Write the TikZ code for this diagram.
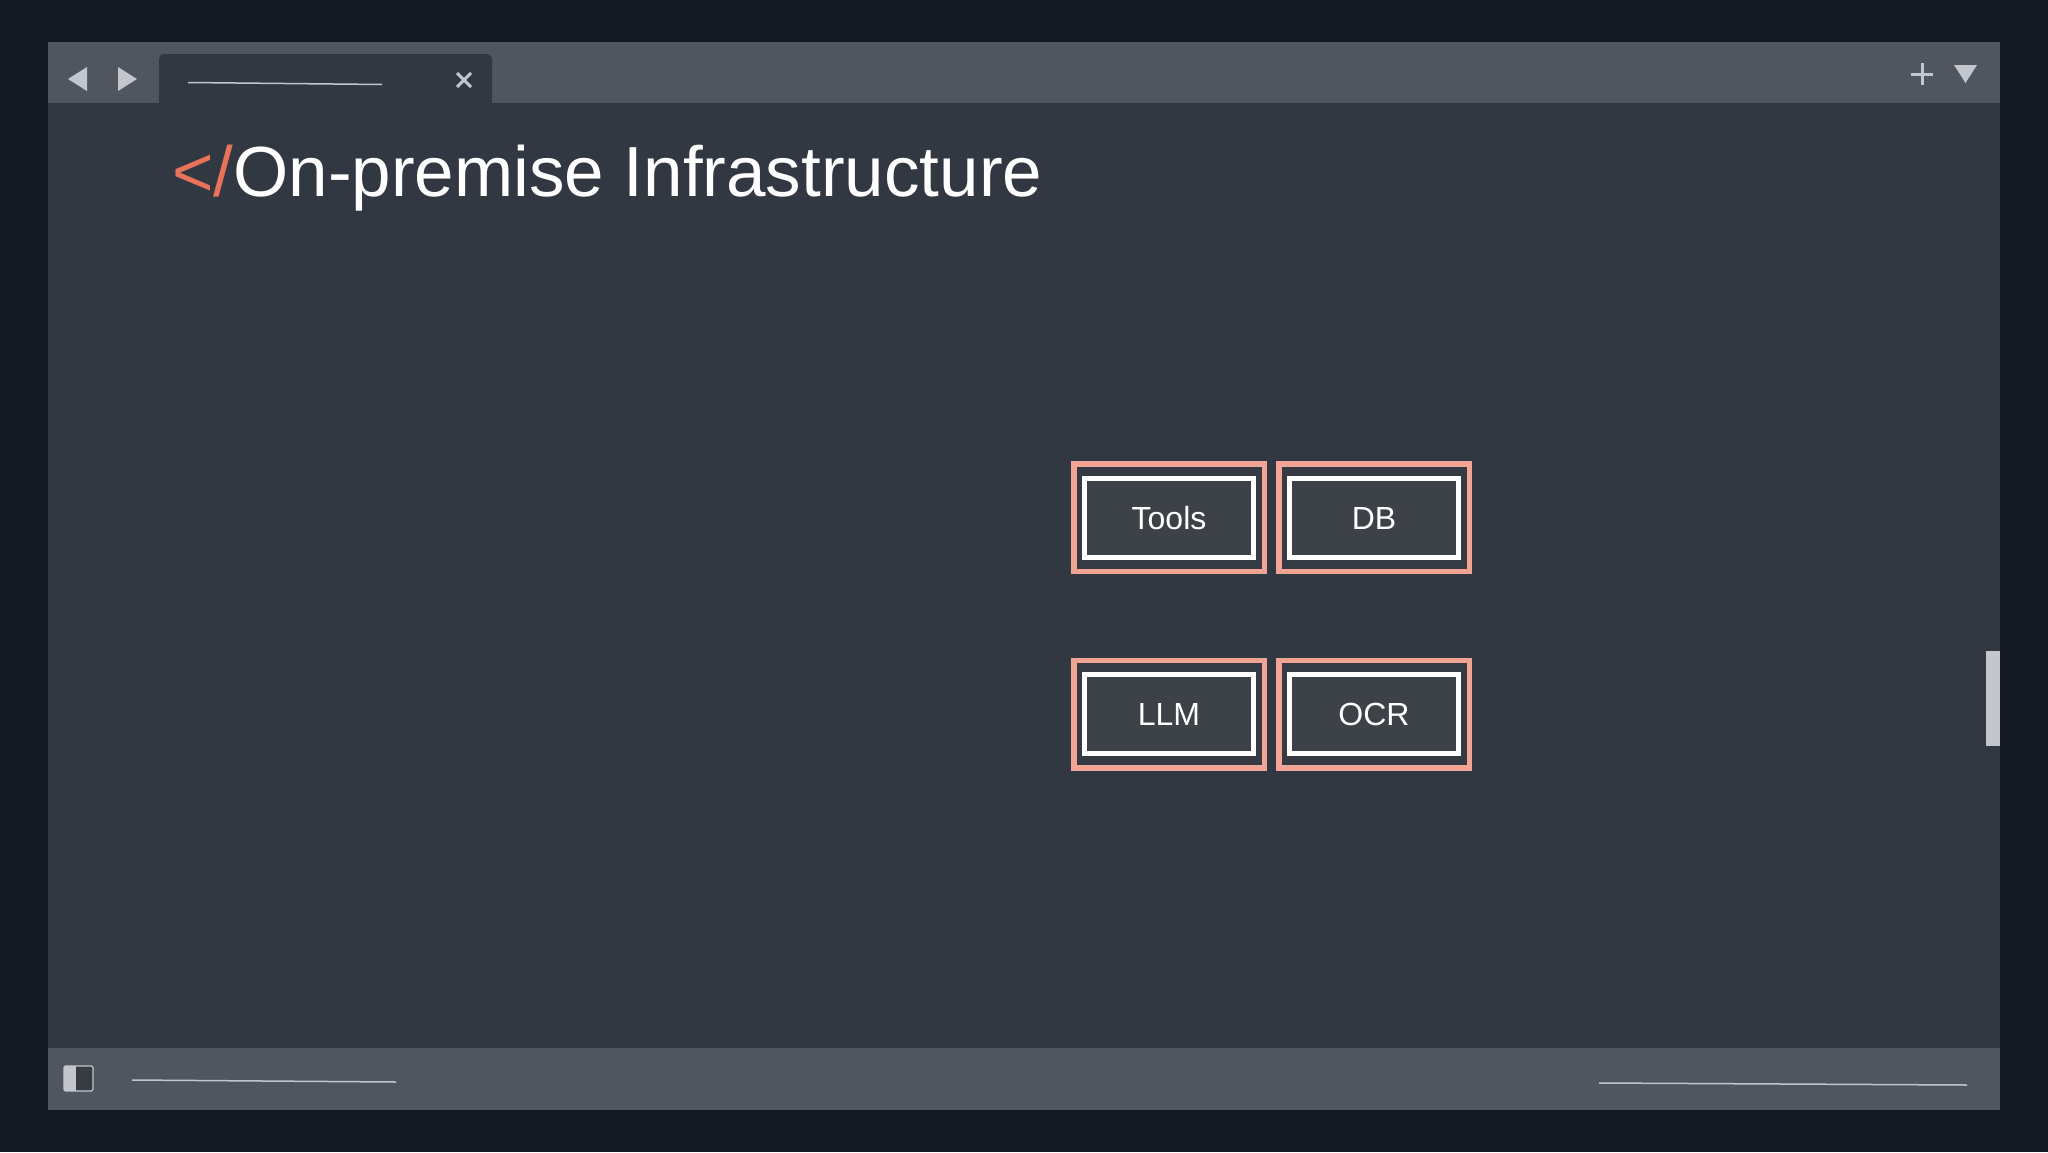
\documentclass[tikz,border=0pt]{standalone}
\usepackage{fontspec}
\setmainfont{Liberation Sans}
\usetikzlibrary{calc}
\definecolor{outerbg}{HTML}{141820}
\definecolor{barbg}{HTML}{4F5660}
\definecolor{contentbg}{HTML}{323842}
\definecolor{iconc}{HTML}{C3C7CD}
\definecolor{titleorange}{HTML}{E8735A}
\definecolor{boxorange}{HTML}{F2A594}
\definecolor{boxfill}{HTML}{363B43}
\definecolor{innerfill}{HTML}{3D4148}
\tikzset{
  outerbox/.style={draw=boxorange, line width=5.5pt, fill=boxfill, minimum width=190.5pt, minimum height=107.5pt, inner sep=0pt},
  innerbox/.style={draw=white, line width=5pt, fill=innerfill, minimum width=169pt, minimum height=79pt, inner sep=0pt, text=white, font=\fontsize{32}{38}\selectfont},
  thinline/.style={draw=iconc, line width=1.5pt},
  icon/.style={fill=iconc, draw=none},
}
\begin{document}
\begin{tikzpicture}[x=1pt, y=-1pt]
\useasboundingbox (0,0) rectangle (2048,1152);
\fill[outerbg] (0,0) rectangle (2048,1152);
% window
\fill[contentbg] (48,42) rectangle (2000,1110);
\fill[barbg] (48,42) rectangle (2000,103);
\fill[barbg] (48,1048) rectangle (2000,1110);
% tab
\fill[contentbg, rounded corners=5pt] (159,103) -- (159,54) -- (492,54) -- (492,103) -- cycle;
\fill[contentbg] (159,90) rectangle (492,104);
% nav arrows
\fill[icon] (87,67) -- (87,91) -- (68,79) -- cycle;
\fill[icon] (118,67) -- (118,91) -- (137,79) -- cycle;
% tab title line and close
\coordinate (tl1) at (188,82.5);
\coordinate (tl2) at (382,84.5);
\draw[thinline] (tl1) -- (tl2);
\coordinate (xc) at (464,80);
\draw[iconc, line width=3pt] ($(xc)+(-7,-7)$) -- ($(xc)+(7,7)$);
\draw[iconc, line width=3pt] ($(xc)+(-7,7)$) -- ($(xc)+(7,-7)$);
% plus and dropdown
\coordinate (pc) at (1922,74);
\draw[iconc, line width=3pt] ($(pc)+(-11,0)$) -- ($(pc)+(11,0)$);
\draw[iconc, line width=3pt] ($(pc)+(0,-11)$) -- ($(pc)+(0,11)$);
\fill[icon] (1954,65) -- (1977,65) -- (1965.5,83) -- cycle;
% title
\node[anchor=base west, inner sep=0pt, text=white, font=\fontsize{71}{84}\selectfont] (title) at (172,196) {\textcolor{titleorange}{</}On-premise Infrastructure};
% boxes
\node[outerbox] (toolsO) at (1169,517.5) {};
\node[innerbox] (tools) at (1169,518) {Tools};
\node[outerbox] (dbO) at (1374,517.5) {};
\node[innerbox] (db) at (1374,518) {DB};
\node[outerbox] (llmO) at (1169,714) {};
\node[innerbox] (llm) at (1169,714) {LLM};
\node[outerbox] (ocrO) at (1374,714) {};
\node[innerbox] (ocr) at (1374,714) {OCR};
% scrollbar
\fill[iconc] (1986,651) rectangle (2000,746);
% bottom bar
\fill[barbg!70!black] (64,1066) rectangle (93,1091);
\fill[icon] (64,1066) rectangle (76,1091);
\draw[iconc, line width=1.2pt, rounded corners=1.5pt] (64,1066) rectangle (93,1091);
\coordinate (bl1) at (132,1080);
\coordinate (bl2) at (396,1082);
\draw[thinline] (bl1) -- (bl2);
\coordinate (br1) at (1599,1083);
\coordinate (br2) at (1967,1085);
\draw[thinline] (br1) -- (br2);
\end{tikzpicture}
\end{document}
